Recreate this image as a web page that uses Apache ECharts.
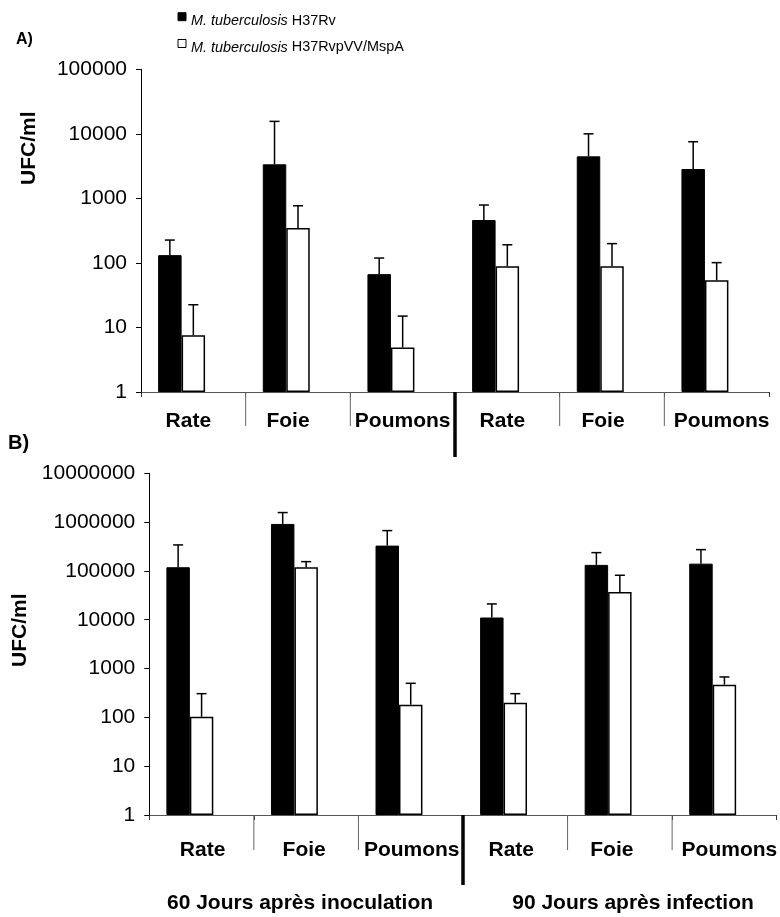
<!DOCTYPE html>
<html>
<head>
<meta charset="utf-8">
<title>UFC/ml – M. tuberculosis H37Rv vs H37RvpVV/MspA</title>
<script src="https://cdn.jsdelivr.net/npm/echarts@6/dist/echarts.min.js"></script>
<style>
  html, body { margin: 0; padding: 0; background: #fff; }
  #chart { width: 780px; height: 917px; }
</style>
</head>
<body>
<div id="chart"></div>
<script>
// Organs, twice: 60 days after inoculation, then 90 days after infection
const categories = ['Rate', 'Foie', 'Poumons', 'Rate', 'Foie', 'Poumons'];

const seriesNames = ['M. tuberculosis H37Rv', 'M. tuberculosis H37RvpVV/MspA'];

// Panel A – mean UFC/ml and top of the error bar
const wildA     = [132, 3370, 67, 462, 4480, 2850];
const wildTopA  = [226, 15600, 119, 789, 10000, 7550];
const mspaA     = [7.6, 347, 4.9, 88.5, 88.5, 53.7];
const mspaTopA  = [22.5, 769, 15.0, 191, 199, 101];

// Panel B – mean UFC/ml and top of the error bar
const wildB     = [119000, 918000, 330000, 11100, 133000, 141000];
const wildTopB  = [341000, 1570000, 670000, 21100, 237000, 273000];
const mspaB     = [103, 119000, 182, 200, 37100, 468];
const mspaTopB  = [306, 155000, 499, 306, 81500, 673];

// Third, empty bar slot of every category group
const emptySlot = [null, null, null, null, null, null];

// Category boundaries that carry a separator below the axis
const organSeparators = [1, 2, 4, 5];
const periodSeparators = [3];

const yLabelsA = ['1', '10', '100', '1000', '10000', '100000'];
const yLabelsB = ['1', '10', '100', '1000', '10000', '100000', '1000000', '10000000'];

const periodLabels = ['60 Jours après inoculation', '90 Jours après infection'];
const panelLabels = ['A)', 'B)'];
const yName = 'UFC/ml';

// ---- styling ----
const FONT = 'Liberation Sans, Arial, Helvetica, sans-serif';
const CAT_GAP = 0.327;           // share of a category left empty
const labelNudgeA = [-5, -10, 0, -5, -9, 5];   // horizontal label nudges (px)
const labelNudgeB = [1, -2, 1, -4, -8, 5];

function richFor(nudges) {
  const rich = {};
  nudges.forEach((d, i) => {
    rich['c' + i] = {
      fontFamily: FONT, fontSize: 21, fontWeight: 'bold', color: '#000',
      padding: [0, d < 0 ? -2 * d : 0, 0, d > 0 ? 2 * d : 0]
    };
  });
  return rich;
}

function zipErr(vals, tops) {
  return vals.map((v, i) => [i, v, tops[i]]);
}

// Upward error bar with a cap; slot -1 = dark bar, 0 = light bar
function errRenderer(slot) {
  return function (params, api) {
    const i = api.value(0), v = api.value(1), top = api.value(2);
    const band = api.size([1, 1])[0];
    const bw = band * (1 - CAT_GAP) / 3;
    const p0 = api.coord([i, v]);
    const p1 = api.coord([i, top]);
    const x = p0[0] + slot * bw;
    const cap = 5;
    const st = { stroke: '#000', lineWidth: 1.5 };
    return {
      type: 'group',
      children: [
        { type: 'line', shape: { x1: x, y1: p0[1], x2: x, y2: p1[1] }, style: st },
        { type: 'line', shape: { x1: x - cap, y1: p1[1], x2: x + cap, y2: p1[1] }, style: st }
      ]
    };
  };
}

// Vertical separator hanging below the axis at the left edge of a category
function separatorRenderer(len, color, width) {
  return function (params, api) {
    const i = api.value(0);
    const band = api.size([1, 1])[0];
    const p = api.coord([i, 1]);
    const x = p[0] - band / 2;
    return {
      type: 'line',
      shape: { x1: x, y1: p[1], x2: x, y2: p[1] + len },
      style: { stroke: color, lineWidth: width }
    };
  };
}

function xAxisFor(gridIndex, nudges, margin) {
  return {
    gridIndex, type: 'category', data: categories, position: 'bottom',
    boundaryGap: true,
    axisLine: { show: true, onZero: false, lineStyle: { color: '#555', width: 1 } },
    axisTick: { show: true, length: 5, interval: 0, lineStyle: { color: '#333', width: 1 } },
    axisLabel: {
      show: true, interval: 0, margin,
      formatter: (val, idx) => '{c' + idx + '|' + val + '}',
      rich: richFor(nudges)
    },
    splitLine: { show: false }
  };
}

function yAxisFor(gridIndex, maxVal, split, labels, padTop, nameGap, nameShift) {
  return {
    gridIndex, type: 'log', logBase: 10, min: 1, max: maxVal, splitNumber: split,
    axisLine: { show: true, lineStyle: { color: '#000', width: 1 } },
    axisTick: { show: true, length: 5, lineStyle: { color: '#000', width: 1 } },
    minorTick: { show: false },
    splitLine: { show: false },
    axisLabel: {
      margin: 14, fontSize: 21, color: '#000', fontFamily: FONT,
      padding: [padTop, 0, 0, 0],
      formatter: (v) => labels[Math.round(Math.log10(v))]
    },
    name: yName, nameLocation: 'middle', nameRotate: 90, nameGap,
    nameTextStyle: {
      fontSize: 21, fontWeight: 'bold', color: '#000', fontFamily: FONT,
      padding: [0, 0, 0, nameShift]
    }
  };
}

function panelSeries(xIdx, yIdx, wild, wildTop, mspa, mspaTop, sepLen, thickLen) {
  const common = { xAxisIndex: xIdx, yAxisIndex: yIdx };
  const barCommon = Object.assign({ type: 'bar', barGap: '0%', barCategoryGap: (CAT_GAP * 100) + '%' }, common);
  return [
    Object.assign({
      name: seriesNames[0], data: wild,
      itemStyle: { color: '#000', borderColor: '#000', borderWidth: 1 },
      emphasis: { disabled: true }, z: 2
    }, barCommon),
    Object.assign({
      name: seriesNames[1], data: mspa,
      itemStyle: { color: '#fff', borderColor: '#000', borderWidth: 1.5 },
      emphasis: { disabled: true }, z: 2
    }, barCommon),
    Object.assign({ name: 'slot', data: emptySlot, silent: true }, barCommon),
    Object.assign({
      name: seriesNames[0], type: 'custom', data: zipErr(wild, wildTop),
      renderItem: errRenderer(-1), encode: { x: 0, y: 1 }, clip: false, silent: true, z: 3
    }, common),
    Object.assign({
      name: seriesNames[1], type: 'custom', data: zipErr(mspa, mspaTop),
      renderItem: errRenderer(0), encode: { x: 0, y: 1 }, clip: false, silent: true, z: 3
    }, common),
    Object.assign({
      name: 'organ-sep', type: 'custom', data: organSeparators.map((i) => [i, 1]),
      renderItem: separatorRenderer(sepLen, '#666', 1), encode: { x: 0, y: 1 },
      clip: false, silent: true, z: 1
    }, common),
    Object.assign({
      name: 'period-sep', type: 'custom', data: periodSeparators.map((i) => [i, 1]),
      renderItem: separatorRenderer(thickLen, '#000', 3.5), encode: { x: 0, y: 1 },
      clip: false, silent: true, z: 1
    }, common)
  ];
}

const chart = echarts.init(document.getElementById('chart'), null, { renderer: 'canvas' });

chart.setOption({
  animation: false,
  backgroundColor: '#fff',
  textStyle: { fontFamily: FONT, color: '#000' },
  legend: {
    data: seriesNames,
    orient: 'vertical', left: 177.5, top: 4.7, padding: 0,
    icon: 'rect', itemWidth: 8, itemHeight: 8, itemGap: 2.8,
    selectedMode: false,
    itemStyle: { borderWidth: 1 },
    formatter: (name) => name.replace('M. tuberculosis', '{i|M. tuberculosis}'),
    textStyle: {
      fontFamily: FONT, fontSize: 14.4, color: '#000', lineHeight: 16,
      padding: [8, 0, 0, 0],
      rich: { i: { fontFamily: FONT, fontSize: 14.4, fontStyle: 'italic', color: '#000', lineHeight: 16 } }
    }
  },
  grid: [
    { left: 141, right: 11, top: 69.3, height: 322.7, outerBoundsMode: 'none', containLabel: false },
    { left: 149.3, right: 3.3, top: 473.3, height: 341.7, outerBoundsMode: 'none', containLabel: false }
  ],
  xAxis: [
    xAxisFor(0, labelNudgeA, 19),
    xAxisFor(1, labelNudgeB, 25)
  ],
  yAxis: [
    yAxisFor(0, 100000, 5, yLabelsA, 10, 101, 165),
    yAxisFor(1, 10000000, 7, yLabelsB, 8, 109, 28)
  ],
  series: [
    ...panelSeries(0, 0, wildA, wildTopA, mspaA, mspaTopA, 34, 65),
    ...panelSeries(1, 1, wildB, wildTopB, mspaB, mspaTopB, 35, 70)
  ],
  graphic: [
    { type: 'text', x: 16, y: 40, style: { text: panelLabels[0], font: 'bold 16px ' + FONT, fill: '#000', align: 'left', verticalAlign: 'middle', textAlign: 'left', textVerticalAlign: 'middle' } },
    { type: 'text', x: 8, y: 443, style: { text: panelLabels[1], font: 'bold 20px ' + FONT, fill: '#000', align: 'left', verticalAlign: 'middle', textAlign: 'left', textVerticalAlign: 'middle' } },
    { type: 'text', x: 300, y: 903, style: { text: periodLabels[0], font: 'bold 21px ' + FONT, fill: '#000', align: 'center', verticalAlign: 'middle', textAlign: 'center', textVerticalAlign: 'middle' } },
    { type: 'text', x: 633, y: 903, style: { text: periodLabels[1], font: 'bold 21px ' + FONT, fill: '#000', align: 'center', verticalAlign: 'middle', textAlign: 'center', textVerticalAlign: 'middle' } }
  ]
});
</script>
</body>
</html>
